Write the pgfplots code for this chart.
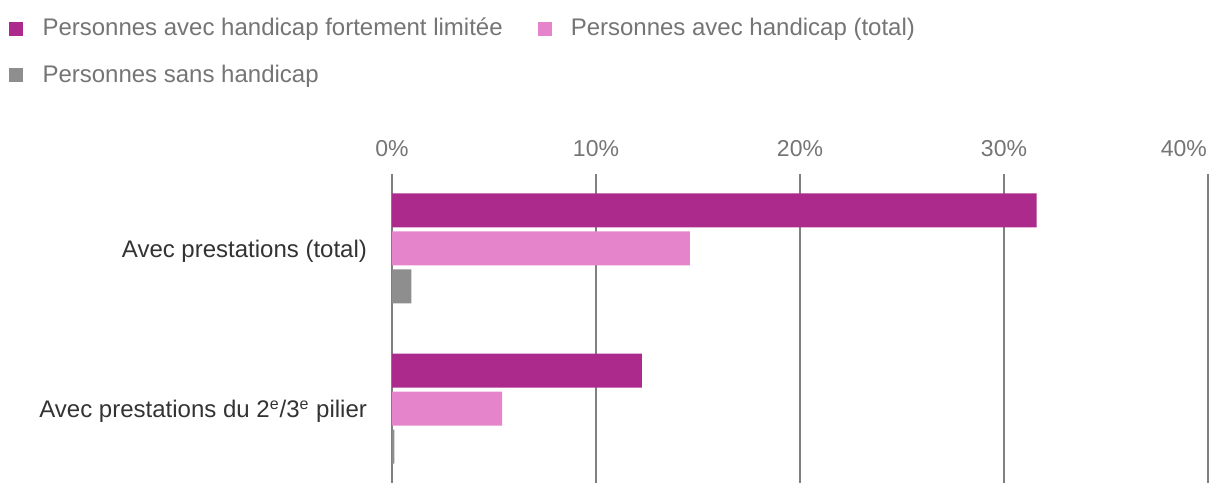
\documentclass[border=0pt]{standalone}
\usepackage{pgfplots}
\pgfplotsset{compat=1.18}
\usepackage{fontspec}
\setmainfont{Liberation Sans}
\definecolor{cdark}{RGB}{173,42,141}
\definecolor{cpink}{RGB}{229,132,202}
\definecolor{cgray}{RGB}{142,142,142}
\definecolor{cgrid}{RGB}{128,128,128}
\definecolor{ctick}{RGB}{117,117,117}
\definecolor{ccat}{RGB}{51,51,51}
\begin{document}
\begin{tikzpicture}
\useasboundingbox (0,0) rectangle (610pt,248pt);
\begin{axis}[
  at={(196pt,161pt)}, anchor=north west,
  scale only axis, width=408pt, height=154.5pt,
  xbar, bar width=17pt,
  xmin=0, xmax=40, ymin=-0.465, ymax=1.465,
  y dir=reverse,
  axis line style={draw=none},
  major tick length=0pt,
  xtick={0,10,20,30}, xticklabels={0\%,10\%,20\%,30\%},
  extra x ticks={40}, extra x tick labels={40\%},
  extra x tick style={grid=major, xticklabel style={anchor=south east, xshift=3pt}},
  xticklabel pos=top,
  xticklabel style={font=\fontsize{11.5}{13}\selectfont, text=ctick, yshift=5pt},
  xmajorgrids, grid style={cgrid, line width=1pt},
  ytick={0,1},
  yticklabels={Avec prestations (total), Avec prestations du 2\textsuperscript{e}/3\textsuperscript{e} pilier},
  yticklabel style={font=\fontsize{12}{14}\selectfont, text=ccat, xshift=-9pt, yshift=-1.5pt},
  legend style={at={(axis description cs:-0.4766,1.531)}, anchor=north west, draw=none,
    font=\fontsize{12}{14}\selectfont, text=ctick,
    /tikz/every even column/.append style={column sep=15.5pt}, row sep=9pt},
  legend columns=2, legend cell align=left,
  legend image code/.code={\fill[#1] (0pt,-3.5pt) rectangle (7pt,3.5pt); \path (14.5pt,0pt);},
]
\addplot[fill=cdark, draw=none, bar shift=19pt] coordinates {(31.6,0) (12.25,1)};
\addplot[fill=cpink, draw=none, bar shift=0pt] coordinates {(14.6,0) (5.4,1)};
\addplot[fill=cgray, draw=none, bar shift=-19pt] coordinates {(0.95,0) (0.12,1)};
\legend{Personnes avec handicap fortement limitée, Personnes avec handicap (total), Personnes sans handicap}
\end{axis}
\end{tikzpicture}
\end{document}
